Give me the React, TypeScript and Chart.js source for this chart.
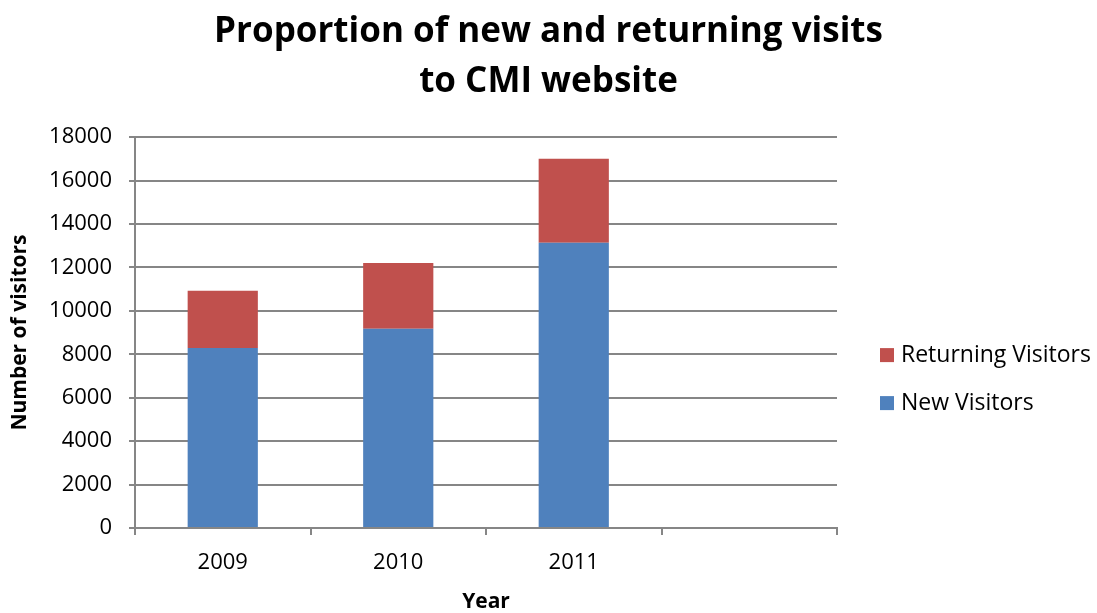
import React, { useEffect, useRef } from "react";
import { Chart, registerables } from "chart.js";

Chart.register(...registerables);

const categories = ["2009", "2010", "2011", ""];
const newVisitors = [8290, 9180, 13130, null];
const returningVisitors = [2640, 3020, 3870, null];
const yTicks = { min: 0, max: 18000, step: 2000 };

const FONT = "'Open Sans', 'Noto Sans', sans-serif";
const GRID = "#868686";

const sideLegend = {
  id: "sideLegend",
  afterDraw(chart: any) {
    const { ctx, chartArea } = chart;
    const items = chart.data.datasets
      .map((ds: any) => ({ label: ds.label, color: ds.backgroundColor }))
      .reverse();
    ctx.save();
    ctx.font = `23px ${FONT}`;
    ctx.textBaseline = "middle";
    ctx.textAlign = "left";
    items.forEach((it: any, i: number) => {
      const y = chartArea.top + 218 + i * 48;
      const x = chartArea.right + 43;
      ctx.fillStyle = it.color;
      ctx.fillRect(x, y - 7, 14, 14);
      ctx.fillStyle = "#000";
      ctx.fillText(it.label, x + 21, y);
    });
    ctx.restore();
  },
};

export default function App() {
  const ref = useRef<HTMLCanvasElement | null>(null);
  useEffect(() => {
    if (!ref.current) return;
    const chart = new Chart(ref.current, {
      type: "bar",
      data: {
        labels: categories,
        datasets: [
          {
            label: "New Visitors",
            data: newVisitors,
            backgroundColor: "#4F81BD",
            barPercentage: 0.4,
            categoryPercentage: 1,
          },
          {
            label: "Returning Visitors",
            data: returningVisitors,
            backgroundColor: "#C0504D",
            barPercentage: 0.4,
            categoryPercentage: 1,
          },
        ],
      },
      plugins: [sideLegend],
      options: {
        animation: false,
        responsive: false,
        maintainAspectRatio: false,
        layout: { padding: { top: 0, right: 0, left: 0, bottom: 0 } },
        plugins: {
          title: {
            display: true,
            text: ["Proportion of new and returning visits", "to CMI website"],
            font: { family: FONT, size: 35, weight: "bold", lineHeight: 1.43 },
            color: "#000",
            padding: { top: 7, bottom: 30 },
          },
          legend: { display: false },
          tooltip: { enabled: false },
        },
        scales: {
          x: {
            stacked: true,
            afterFit: (s: any) => {
              s.height = 85;
            },
            grid: {
              display: true,
              drawOnChartArea: false,
              offset: true,
              tickLength: 7,
              color: GRID,
              lineWidth: 2,
            },
            border: { color: GRID, width: 2 },
            ticks: { color: "#000", font: { family: FONT, size: 22 }, padding: 15 },
            title: {
              display: true,
              text: "Year",
              color: "#000",
              font: { family: FONT, size: 21, weight: "bold", lineHeight: 1 },
              padding: { top: 0, bottom: 0 },
            },
          },
          y: {
            stacked: true,
            min: yTicks.min,
            max: yTicks.max,
            afterFit: (s: any) => {
              s.width = 135;
            },
            grid: { color: GRID, lineWidth: 2, tickLength: 6 },
            border: { color: GRID, width: 2 },
            ticks: {
              stepSize: yTicks.step,
              color: "#000",
              font: { family: FONT, size: 22 },
              padding: 17,
              callback: (v: any) => String(v),
            },
            title: {
              display: true,
              text: "Number of visitors",
              color: "#000",
              font: { family: FONT, size: 21, weight: "bold", lineHeight: 1.2 },
              padding: { top: 7, bottom: 0 },
            },
          },
          legendSpace: {
            type: "linear",
            position: "right",
            display: true,
            afterFit: (s: any) => {
              s.width = 260;
            },
            grid: { display: false, drawOnChartArea: false, drawTicks: false },
            border: { display: false },
            ticks: { display: false },
          },
        },
      },
    });
    return () => chart.destroy();
  }, []);
  return (
    <div style={{ position: "fixed", left: 0, top: 0, width: 1097, height: 613, background: "#fff" }}>
      <canvas ref={ref} width={1097} height={613} style={{ width: 1097, height: 613 }} />
    </div>
  );
}
